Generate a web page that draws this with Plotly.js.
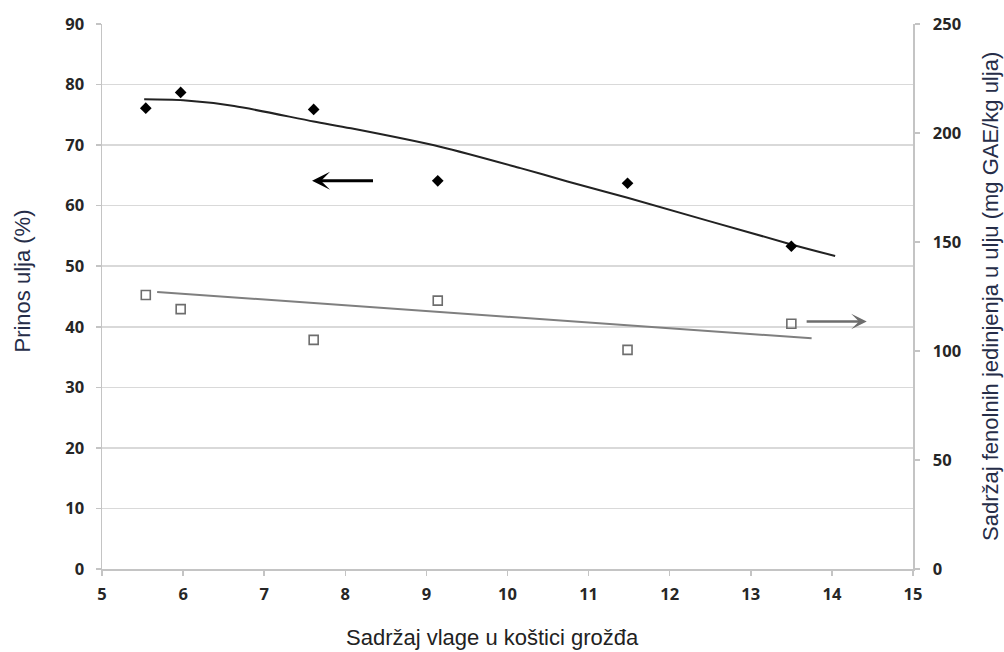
<!DOCTYPE html>
<html>
<head>
<meta charset="utf-8">
<script src="https://cdn.plot.ly/plotly-3.0.1.min.js"></script>
<style>
  html, body { margin: 0; padding: 0; background: #fff; }
  #chart { width: 1004px; height: 652px; }
</style>
</head>
<body>
<div id="chart"></div>
<script>
// Moisture content of grape seeds (x)
const moisture = [5.54, 5.97, 7.61, 9.14, 11.48, 13.5];
// Oil yield, % (left axis)
const oilYield = [76.1, 78.7, 75.9, 64.1, 63.7, 53.3];
// Phenolic content in oil, mg GAE/kg (right axis)
const phenolics = [125.7, 119.2, 105.1, 123.1, 100.5, 112.5];

// Polynomial trend of oil yield
const yieldTrendX = [5.52, 6.0, 6.63, 7.61, 8.07, 9.18, 10.16, 10.74, 11.48, 13.5, 14.04];
const yieldTrendY = [77.56, 77.4, 76.45, 73.9, 72.77, 69.7, 66.2, 64.0, 61.3, 53.6, 51.7];

// Linear trend of phenolic content
const phenolTrendX = [5.68, 13.75];
const phenolTrendY = [127.1, 105.8];

// Axis titles
const xTitle = 'Sadržaj vlage u koštici grožđa';
const yTitle = 'Prinos ulja (%)';
const y2Title = 'Sadržaj fenolnih jedinjenja u ulju (mg GAE/kg ulja)';

const tickFont = { family: 'Open Sans, Arial, sans-serif', size: 16.5, color: '#262626', weight: 'bold' };
const titleFamily = 'Liberation Sans, Arial, sans-serif';

const traces = [
  {
    x: yieldTrendX, y: yieldTrendY, type: 'scatter', mode: 'lines',
    line: { color: '#222222', width: 2, shape: 'spline', smoothing: 0.8 },
    hoverinfo: 'skip', showlegend: false
  },
  {
    x: phenolTrendX, y: phenolTrendY, yaxis: 'y2', type: 'scatter', mode: 'lines',
    line: { color: '#7f7f7f', width: 2 },
    hoverinfo: 'skip', showlegend: false
  },
  {
    x: moisture, y: oilYield, type: 'scatter', mode: 'markers',
    marker: { symbol: 'diamond', size: 9, color: '#000000' },
    showlegend: false
  },
  {
    x: moisture, y: phenolics, yaxis: 'y2', type: 'scatter', mode: 'markers',
    marker: { symbol: 'square-open', size: 9, color: '#6d6d6d', line: { width: 1.6, color: '#6d6d6d' } },
    showlegend: false
  }
];

const axisLine = {
  showline: true, linecolor: '#c4c4c4', linewidth: 1.5,
  ticks: 'outside', ticklen: 5, tickcolor: '#c4c4c4', tickwidth: 1.5,
  zeroline: false, automargin: false, tickfont: tickFont
};

const layout = {
  width: 1004, height: 652,
  margin: { l: 102, r: 91, t: 24, b: 83 },
  paper_bgcolor: '#ffffff', plot_bgcolor: '#ffffff',
  showlegend: false,
  xaxis: Object.assign({}, axisLine, {
    range: [5, 15], dtick: 1, tick0: 5,
    showgrid: false, ticklabelstandoff: 5
  }),
  yaxis: Object.assign({}, axisLine, {
    range: [0, 90], dtick: 10, tick0: 0,
    showgrid: true, gridcolor: '#d9d9d9', gridwidth: 1.5,
    ticklabelstandoff: 8
  }),
  yaxis2: Object.assign({}, axisLine, {
    range: [0, 250], dtick: 50, tick0: 0,
    overlaying: 'y', side: 'right',
    showgrid: false, ticklabelstandoff: 10
  }),
  annotations: [
    {
      xref: 'paper', yref: 'paper', x: 0.4815, y: -0.125,
      xanchor: 'center', yanchor: 'middle', showarrow: false,
      text: xTitle, font: { family: titleFamily, size: 22, color: '#222222' }
    },
    {
      xref: 'paper', yref: 'paper', x: -0.0986, y: 0.5275,
      xanchor: 'center', yanchor: 'middle', showarrow: false, textangle: -90,
      text: yTitle, font: { family: titleFamily, size: 22, color: '#262d48' }
    },
    {
      xref: 'paper', yref: 'paper', x: 1.0955, y: 0.5,
      xanchor: 'center', yanchor: 'middle', showarrow: false, textangle: -90,
      text: y2Title, font: { family: titleFamily, size: 22, color: '#262d48' }
    },
    {
      xref: 'x', yref: 'y', axref: 'x', ayref: 'y',
      x: 7.59, y: 64.1, ax: 8.36, ay: 64.1,
      text: '', showarrow: true, arrowhead: 3, arrowsize: 1, arrowwidth: 3, arrowcolor: '#000000'
    },
    {
      xref: 'x', yref: 'y2', axref: 'x', ayref: 'y2',
      x: 14.43, y: 113.5, ax: 13.67, ay: 113.5,
      text: '', showarrow: true, arrowhead: 3, arrowsize: 1, arrowwidth: 2.6, arrowcolor: '#6d6d6d'
    }
  ]
};

Plotly.newPlot('chart', traces, layout, { displayModeBar: false, staticPlot: true });
</script>
</body>
</html>
